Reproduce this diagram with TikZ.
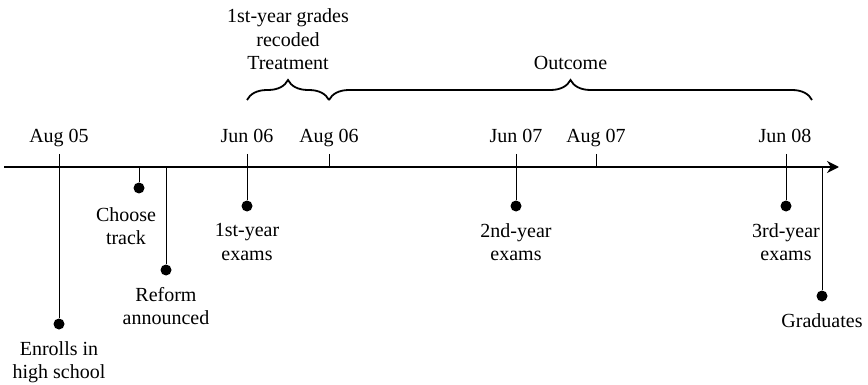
\documentclass[tikz,border=0pt]{standalone}
\usepackage{fontspec}
\setmainfont{Liberation Serif}
\usetikzlibrary{arrows.meta, decorations.pathreplacing, positioning}

\begin{document}
\begin{tikzpicture}[
            x=0.5pt, y=-0.5pt,
            node distance=5.5pt,
            every node/.style={font=\fontsize{10pt}{11.75pt}\selectfont, inner sep=0pt},
            date/.style={anchor=base},
            event/.style={align=center},
            dot/.style={circle, fill=black, minimum size=5.5pt, inner sep=0pt},
            axis/.style={line width=1.1pt, -{Stealth[length=6pt, width=6pt]}},
            stem/.style={line width=0.5pt},
            brc/.style={decorate, decoration={brace, amplitude=10pt}, line width=0.9pt}
          ]
          \useasboundingbox (0,0) rectangle (868,385);
          \coordinate (axstart) at (4,167);
          \coordinate (axend) at (839,167);
          \coordinate (aug05) at (59,154);
          \coordinate (jun06) at (247,154);
          \coordinate (aug06) at (329,154);
          \coordinate (aug06b) at (329,167);
          \coordinate (jun07) at (516,154);
          \coordinate (aug07) at (596,154);
          \coordinate (aug07b) at (596,167);
          \coordinate (jun08) at (786,154);
          \coordinate (choosetop) at (139,167);
          \coordinate (reformtop) at (166,167);
          \coordinate (gradtop) at (822,167);
          \coordinate (trt0) at (247,100);
          \coordinate (trt1) at (329,100);
          \coordinate (out1) at (812,100);
          \node[date] (aug05lbl) at (59,143) {Aug 05};
          \node[date] (jun06lbl) at (247,143) {Jun 06};
          \node[date] (aug06lbl) at (329,143) {Aug 06};
          \node[date] (jun07lbl) at (516,143) {Jun 07};
          \node[date] (aug07lbl) at (596,143) {Aug 07};
          \node[date] (jun08lbl) at (785,143) {Jun 08};
          \node[dot] (enroll) at (59,324) {};
          \node[dot] (choose) at (139,188) {};
          \node[dot] (reform) at (166,270) {};
          \node[dot] (exam1) at (247,206) {};
          \node[dot] (exam2) at (516,206) {};
          \node[dot] (exam3) at (786,206) {};
          \node[dot] (grad) at (822,296) {};
          \node[event, below=of enroll] (enrolllbl) {Enrolls in\\high school};
          \node[event, below=6.5pt of choose, xshift=-6.5pt] (chooselbl) {Choose\\track};
          \node[event, below=of reform] (reformlbl) {Reform\\announced};
          \node[event, below=of exam1] (exam1lbl) {1st-year\\exams};
          \node[event, below=of exam2] (exam2lbl) {2nd-year\\exams};
          \node[event, below=of exam3] (exam3lbl) {3rd-year\\exams};
          \node[event, below=of grad] (gradlbl) {Graduates};
          \draw[axis] (axstart) -- (axend);
          \draw[stem] (aug05) -- (enroll); \draw[stem] (choosetop) -- (choose);
          \draw[stem] (reformtop) -- (reform); \draw[stem] (jun06) -- (exam1);
          \draw[stem] (aug06) -- (aug06b); \draw[stem] (jun07) -- (exam2);
          \draw[stem] (aug07) -- (aug07b); \draw[stem] (jun08) -- (exam3);
          \draw[stem] (gradtop) -- (grad);
          \draw[brc] (trt0) -- (trt1) node[midway, above=14.5pt, event] (trtlbl) {1st-year grades\\recoded\\Treatment};
          \draw[brc] (trt1) -- (out1) node[midway, above=14.5pt, event] (outlbl) {Outcome};
        \end{tikzpicture}
\end{document}
